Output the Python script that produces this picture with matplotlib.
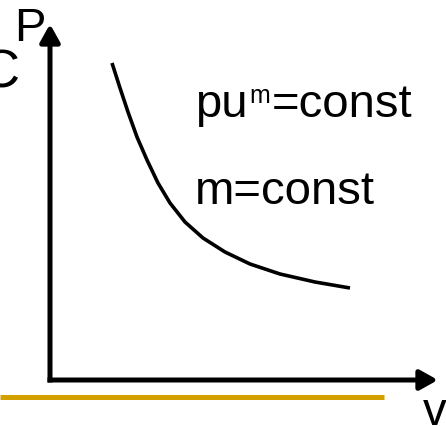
import matplotlib
matplotlib.use('Agg')
import matplotlib.pyplot as plt

plt.rcParams['font.family'] = ['Liberation Sans', 'DejaVu Sans']

# curve (origin at the axis corner, y up)
curve_v = [62, 70, 78, 87, 97, 108, 120, 135, 153, 175, 200, 230, 265, 300]
curve_p = [317, 292, 268, 243, 220, 197, 177, 158, 142, 128, 116, 106, 98, 92]

x_tip = 388
y_tip = 356
gold_end = 334
gold_y = -16.5

fig = plt.figure(figsize=(4.46, 4.26), dpi=100)
ax = fig.add_axes([0, 0, 1, 1])
ax.set_xlim(-50, 396)
ax.set_ylim(-46, 380)
ax.axis('off')

arrow = dict(arrowstyle='-|>,head_length=0.54,head_width=0.3', mutation_scale=20,
             lw=3.6, color='black', shrinkA=0, shrinkB=0, capstyle='butt')
ax.annotate('', xy=(0, y_tip), xytext=(0, -2.5), arrowprops=arrow)
ax.annotate('', xy=(x_tip, 0), xytext=(-2.5, 0), arrowprops=arrow)

ax.plot([-50, gold_end], [gold_y, gold_y], color='#D4A000', lw=3.6, solid_capstyle='butt')

ax.plot(curve_v, curve_p, color='black', lw=2.6, solid_capstyle='butt')

fs = 34
ax.text(-36, 339, 'P', fontsize=fs, ha='left', va='baseline')
ax.text(-31, 293, 'C', fontsize=39, ha='right', va='baseline')
ax.text(373, -45, 'v', fontsize=fs, ha='left', va='baseline')

t1 = ax.text(145, 263, 'pu', fontsize=fs, ha='left', va='baseline')
t2 = ax.annotate('m', xy=(1, 277), xycoords=(t1, 'data'), fontsize=18,
                 ha='left', va='baseline', xytext=(2, 0), textcoords='offset pixels')
ax.annotate('=const', xy=(1, 263), xycoords=(t2, 'data'), fontsize=fs,
            ha='left', va='baseline', xytext=(2, 0), textcoords='offset pixels')
ax.text(145, 176, 'm=const', fontsize=fs, ha='left', va='baseline')

fig.savefig('out.png', dpi=100)
